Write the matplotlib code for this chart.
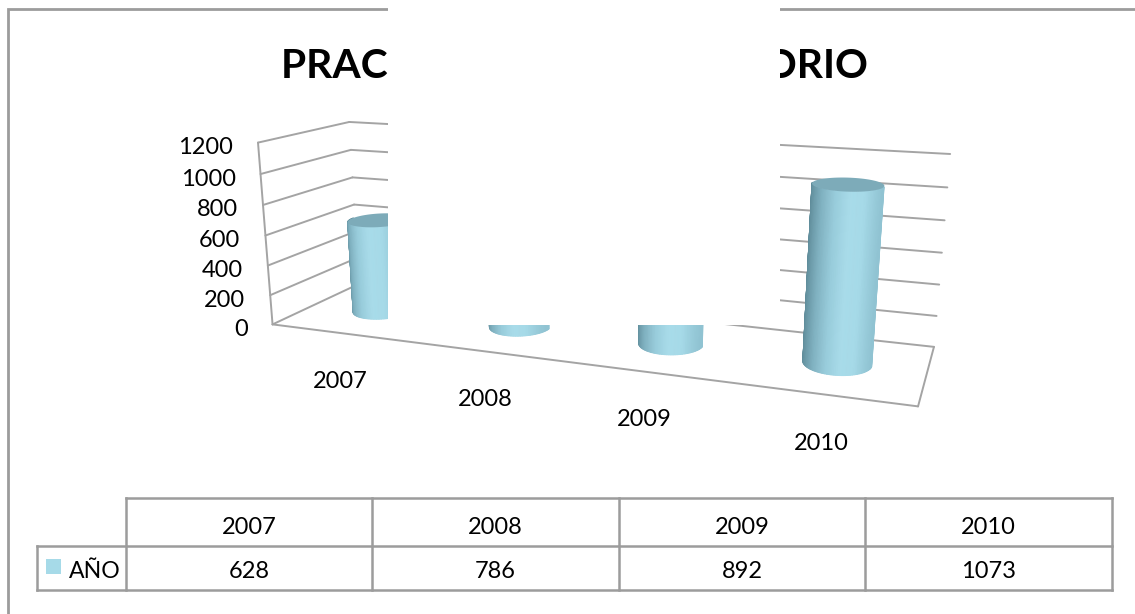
import numpy as np
import matplotlib
matplotlib.use('Agg')
import matplotlib.pyplot as plt
from matplotlib.colors import LinearSegmentedColormap

years = ['2007', '2008', '2009', '2010']
values = [628, 786, 892, 1073]
yticks = [0, 200, 400, 600, 800, 1000, 1200]
series_name = 'AÑO'
title = 'PRACTICAS DE LABORATORIO'

GRAY = '#9c9c9c'
WALL = '#a4a4a4'
BLUE = '#a6dae8'

plt.rcParams['font.family'] = ['Lato', 'DejaVu Sans']

# pixel positions of the box corners, used to fit the 3D view
# (category pos, depth, value) -> (px, py)
box_pts = [
    (0, 0, 0, 273, 324), (0, 0, 600, 266, 235), (0, 0, 1200, 257, 143),
    (0, 1, 0, 358, 285), (0, 1, 600, 354, 204), (0, 1, 1200, 350, 122),
    (4, 1, 0, 934, 346), (4, 1, 600, 942, 253), (4, 1, 1200, 950, 154),
    (4, 0, 0, 918, 407),
]


def fit_camera(pts):
    rows = []
    for x, y, z, px, py in pts:
        z = z / 1200
        rows.append([x, y, z, 1, 0, 0, 0, 0, -px * x, -px * y, -px * z, -px])
        rows.append([0, 0, 0, 0, x, y, z, 1, -py * x, -py * y, -py * z, -py])
    return np.linalg.svd(np.array(rows, dtype=float))[2][-1].reshape(3, 4)


cam = fit_camera(box_pts)
shade = LinearSegmentedColormap.from_list(
    'cyl', ['#5f8c9a', '#7fb0bf', '#97cbda', '#a8dbe9', '#a6dae8', '#90c3d2'])


def project(x, y, z):
    x, y, z = np.broadcast_arrays(x, y, z / 1200)
    p = cam @ np.stack([x, y, z, np.ones_like(x, dtype=float)])
    return p[0] / p[2], p[1] / p[2]


def line3d(ax, a, b):
    px, py = project(np.array([a[0], b[0]], dtype=float),
                     np.array([a[1], b[1]], dtype=float),
                     np.array([a[2], b[2]], dtype=float))
    ax.plot(px, py, color=WALL, lw=1.4, solid_capstyle='round', zorder=2)


def cylinder(ax, pos, val, rx=0.195, ry=0.21):
    t = np.linspace(0, 2 * np.pi, 181)
    cx = pos + rx * np.cos(t)
    cy = 0.52 + ry * np.sin(t)
    tx, ty = project(cx, cy, np.full_like(t, float(val)))
    # front half of the circle is the visible side
    a = np.linspace(np.pi, 2 * np.pi, 60)
    fx = pos + rx * np.cos(a)
    fy = 0.52 + ry * np.sin(a)
    b0, b1 = project(fx, fy, np.zeros_like(fx))
    t0, t1 = project(fx, fy, np.full_like(fx, float(val)))
    c = (1 + np.cos(a)) / 2
    ax.pcolormesh(np.array([b0, t0]), np.array([b1, t1]), np.array([c, c]),
                  shading='gouraud', cmap=shade, vmin=0, vmax=1, zorder=3)
    ax.fill(tx, ty, color='#7dabb9', lw=0, zorder=4)


fig = plt.figure(figsize=(11.35, 6.14), dpi=100)
ax = fig.add_axes([0, 0, 1, 1])
ax.axis('off')

# outer frame
ax.plot([8, 8, 1135], [614, 9, 9], color=GRAY, lw=2, solid_joinstyle='miter')

ax.text(574.5, 78, title, fontsize=29.3, fontweight='bold', ha='center',
        va='baseline', color='black')

# walls and floor
for v in yticks:
    line3d(ax, (0, 0, v), (0, 1, v))
    line3d(ax, (0, 1, v), (4, 1, v))
line3d(ax, (0, 0, 0), (0, 0, 1200))
line3d(ax, (0, 0, 0), (4, 0, 0))
line3d(ax, (4, 0, 0), (4, 1, 0))

for i, v in enumerate(values):
    cylinder(ax, i + 0.5, v)

for v in yticks:
    px, py = project(np.array(0.0), np.array(0.0), np.array(float(v)))
    ax.text(px - 25, py + 5, str(v), fontsize=17, ha='right', va='center')

label_pos = [(340, 382), (485, 400), (644, 420), (821, 444)]
for name, (lx, ly) in zip(years, label_pos):
    ax.text(lx, ly, name, fontsize=17, ha='center', va='center')

# patch that covers the middle of the chart in the source image
ax.fill_between([388, 780], 0, 325, color='white', lw=0, zorder=5)

# data table
col_x = [126, 372, 619, 865, 1112]
row_y = [498, 546, 590]
for x in col_x:
    ax.plot([x, x], [row_y[0], row_y[2]], color=GRAY, lw=1.8, solid_capstyle='projecting')
ax.plot([col_x[0], col_x[-1]], [row_y[0], row_y[0]], color=GRAY, lw=1.8)
ax.plot([37, col_x[-1]], [row_y[1], row_y[1]], color=GRAY, lw=1.8)
ax.plot([37, col_x[-1]], [row_y[2], row_y[2]], color=GRAY, lw=1.8)
ax.plot([37, 37], [row_y[1], row_y[2]], color=GRAY, lw=1.8)

for i in range(4):
    cx = (col_x[i] + col_x[i + 1]) / 2
    ax.text(cx, 527, years[i], fontsize=17, ha='center', va='center')
    ax.text(cx, 572, str(values[i]), fontsize=17, ha='center', va='center')

ax.fill_between([46, 61], 559, 574, color=BLUE, lw=0)
ax.text(69, 571, series_name, fontsize=16.6, ha='left', va='center')

ax.set_xlim(0, 1135)
ax.set_ylim(614, 0)
fig.savefig('out.png', dpi=100)
